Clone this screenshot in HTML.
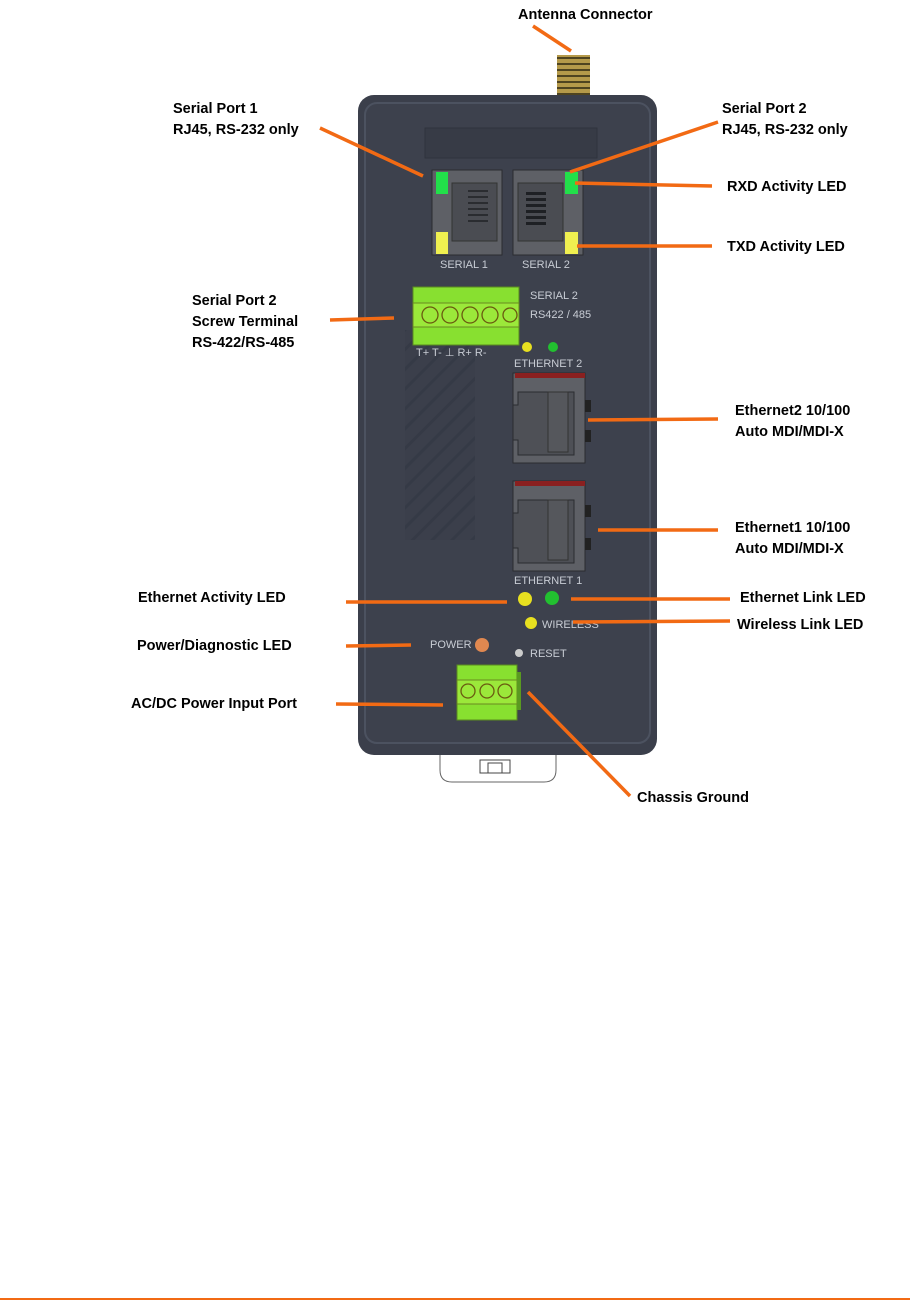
<!DOCTYPE html>
<html><head><meta charset="utf-8"><style>
html,body{margin:0;padding:0;background:#fff;}
svg{display:block}
text{font-family:"Liberation Sans",Arial,sans-serif;font-weight:bold;font-size:14.5px;fill:#000}
.w{font-family:"Liberation Sans",sans-serif;font-weight:normal;font-size:11px;fill:#c8ccd4}
</style></head><body>
<svg width="910" height="1307" viewBox="0 0 910 1307" xmlns="http://www.w3.org/2000/svg">
<defs>
<pattern id="thr" width="33" height="6" patternUnits="userSpaceOnUse"><rect width="33" height="6" fill="#b59a4a"/><rect y="3" width="33" height="2" fill="#4f4420"/></pattern>
<pattern id="hatch" width="14" height="14" patternUnits="userSpaceOnUse" patternTransform="rotate(45)"><rect width="14" height="14" fill="#3a3f4b"/><rect width="3" height="14" fill="#333844"/></pattern>
</defs>
<!-- bottom clip -->
<path d="M440 755 L440 770 Q440 782 452 782 L544 782 Q556 782 556 770 L556 755" fill="#fff" stroke="#666" stroke-width="1"/>
<rect x="480" y="760" width="30" height="13" fill="none" stroke="#444"/>
<rect x="488" y="763" width="14" height="10" fill="none" stroke="#444"/>
<!-- antenna -->
<rect x="557" y="55" width="33" height="43" fill="url(#thr)"/>
<!-- body -->
<rect x="358" y="95" width="299" height="660" rx="16" fill="#3b3f4b"/>
<rect x="365" y="103" width="285" height="640" rx="12" fill="#3d414d" stroke="#4c5260" stroke-width="2"/>
<rect x="425" y="128" width="172" height="30" fill="#373b46" stroke="#2f333d"/>
<path d="M405 330 L475 330 L475 540 L405 540 Z" fill="url(#hatch)" opacity="0.8"/>
<!-- serial 1 -->
<rect x="432" y="170" width="70" height="85" fill="#5e6066" stroke="#2a2c30"/>
<rect x="452" y="183" width="45" height="58" fill="#4a4c52" stroke="#333"/>
<g fill="#2a2c30"><rect x="468" y="190" width="20" height="2"/><rect x="468" y="196" width="20" height="2"/><rect x="468" y="202" width="20" height="2"/><rect x="468" y="208" width="20" height="2"/><rect x="468" y="214" width="20" height="2"/><rect x="468" y="220" width="20" height="2"/></g>
<rect x="436" y="172" width="12" height="22" fill="#22e04a"/>
<rect x="436" y="232" width="12" height="22" fill="#f0f050"/>
<text class="w" x="440" y="268">SERIAL 1</text>
<!-- serial 2 -->
<rect x="513" y="170" width="70" height="85" fill="#5e6066" stroke="#2a2c30"/>
<rect x="518" y="183" width="45" height="58" fill="#4a4c52" stroke="#333"/>
<g fill="#1e2024"><rect x="526" y="192" width="20" height="3"/><rect x="526" y="198" width="20" height="3"/><rect x="526" y="204" width="20" height="3"/><rect x="526" y="210" width="20" height="3"/><rect x="526" y="216" width="20" height="3"/><rect x="526" y="222" width="20" height="3"/></g>
<rect x="565" y="172" width="13" height="22" fill="#22e04a"/>
<rect x="565" y="232" width="13" height="22" fill="#f0f050"/>
<text class="w" x="522" y="268">SERIAL 2</text>
<!-- screw terminal 5 -->
<rect x="413" y="287" width="106" height="58" fill="#88e030" stroke="#5a8a20"/>
<rect x="413" y="303" width="106" height="24" fill="#9be83a" stroke="#6a8a20"/>
<g fill="none" stroke="#6a5a10" stroke-width="1.3">
<circle cx="430" cy="315" r="8"/><circle cx="450" cy="315" r="8"/><circle cx="470" cy="315" r="8"/><circle cx="490" cy="315" r="8"/><circle cx="510" cy="315" r="7"/>
</g>
<text class="w" x="530" y="299">SERIAL 2</text>
<text class="w" x="530" y="318">RS422 / 485</text>
<text class="w" x="416" y="356">T+  T-  ⊥  R+  R-</text>
<circle cx="527" cy="347" r="5" fill="#e8e020"/>
<circle cx="553" cy="347" r="5" fill="#22c030"/>
<!-- ethernet 2 -->
<text class="w" x="514" y="367">ETHERNET 2</text>
<rect x="513" y="373" width="72" height="90" fill="#5e6066" stroke="#2a2c30"/>
<rect x="515" y="373" width="70" height="5" fill="#8a2020"/>
<path d="M518 392 L574 392 L574 455 L518 455 L518 440 L513 440 L513 405 L518 405 Z" fill="#4e5056" stroke="#2a2c30"/>
<rect x="548" y="392" width="20" height="60" fill="#55575c" stroke="#333"/>
<rect x="585" y="400" width="6" height="12" fill="#222"/><rect x="585" y="430" width="6" height="12" fill="#222"/>
<!-- ethernet 1 -->
<rect x="513" y="481" width="72" height="90" fill="#5e6066" stroke="#2a2c30"/>
<rect x="515" y="481" width="70" height="5" fill="#8a2020"/>
<path d="M518 500 L574 500 L574 563 L518 563 L518 548 L513 548 L513 513 L518 513 Z" fill="#4e5056" stroke="#2a2c30"/>
<rect x="548" y="500" width="20" height="60" fill="#55575c" stroke="#333"/>
<rect x="585" y="505" width="6" height="12" fill="#222"/><rect x="585" y="538" width="6" height="12" fill="#222"/>
<text class="w" x="514" y="584">ETHERNET 1</text>
<!-- leds -->
<circle cx="525" cy="599" r="7" fill="#e8e020"/>
<circle cx="552" cy="598" r="7" fill="#22c030"/>
<circle cx="531" cy="623" r="6" fill="#e8e020"/>
<text class="w" x="542" y="628">WIRELESS</text>
<text class="w" x="430" y="648">POWER</text>
<circle cx="482" cy="645" r="7" fill="#e08850"/>
<circle cx="519" cy="653" r="4" fill="#ccc"/>
<text class="w" x="530" y="657">RESET</text>
<!-- power terminal -->
<rect x="457" y="665" width="60" height="55" fill="#88e030" stroke="#5a8a20"/>
<rect x="457" y="680" width="60" height="24" fill="#9be83a" stroke="#6a8a20"/>
<g fill="none" stroke="#6a5a10" stroke-width="1.3"><circle cx="468" cy="691" r="7"/><circle cx="487" cy="691" r="7"/><circle cx="505" cy="691" r="7"/></g>
<rect x="517" y="672" width="4" height="38" fill="#5a9a20"/>
<!-- connectors -->
<g stroke="#f26a14" stroke-width="3.5" fill="none" stroke-linecap="butt">
<line x1="533" y1="26" x2="571" y2="51"/>
<line x1="320" y1="128" x2="423" y2="176"/>
<line x1="718" y1="122" x2="570" y2="172"/>
<line x1="575" y1="183" x2="712" y2="186"/>
<line x1="577" y1="246" x2="712" y2="246"/>
<line x1="330" y1="320" x2="394" y2="318"/>
<line x1="588" y1="420" x2="718" y2="419"/>
<line x1="598" y1="530" x2="718" y2="530"/>
<line x1="346" y1="602" x2="507" y2="602"/>
<line x1="571" y1="599" x2="730" y2="599"/>
<line x1="573" y1="622" x2="730" y2="621"/>
<line x1="346" y1="646" x2="411" y2="645"/>
<line x1="336" y1="704" x2="443" y2="705"/>
<line x1="528" y1="692" x2="630" y2="796"/>
<line x1="0" y1="1299" x2="910" y2="1299" stroke-width="2"/>
</g>
<!-- labels -->
<text x="518" y="19">Antenna Connector</text>
<text x="173" y="113">Serial Port 1</text>
<text x="173" y="134">RJ45, RS-232 only</text>
<text x="722" y="113">Serial Port 2</text>
<text x="722" y="134">RJ45, RS-232 only</text>
<text x="727" y="191">RXD Activity LED</text>
<text x="727" y="251">TXD Activity LED</text>
<text x="192" y="305">Serial Port 2</text>
<text x="192" y="326">Screw Terminal</text>
<text x="192" y="347">RS-422/RS-485</text>
<text x="735" y="415">Ethernet2 10/100</text>
<text x="735" y="436">Auto MDI/MDI-X</text>
<text x="735" y="532">Ethernet1 10/100</text>
<text x="735" y="553">Auto MDI/MDI-X</text>
<text x="138" y="602">Ethernet Activity LED</text>
<text x="740" y="602">Ethernet Link LED</text>
<text x="737" y="629">Wireless Link LED</text>
<text x="137" y="650">Power/Diagnostic LED</text>
<text x="131" y="708">AC/DC Power Input Port</text>
<text x="637" y="802">Chassis Ground</text>
</svg>
</body></html>
